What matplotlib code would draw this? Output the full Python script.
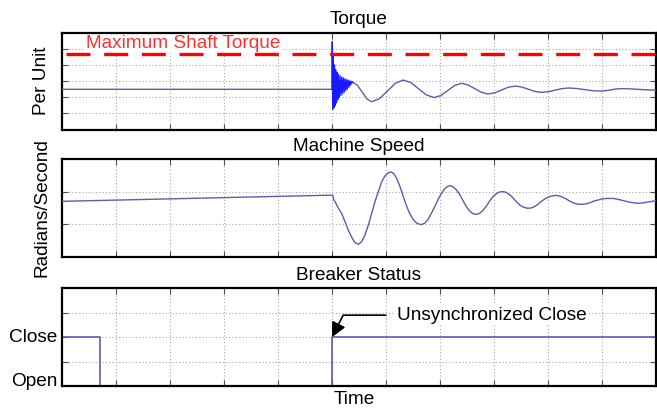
import matplotlib
matplotlib.use("Agg")
import matplotlib.pyplot as plt

plt.rcParams['font.family'] = ['Liberation Sans', 'DejaVu Sans']

# ---------------- data ----------------
titles = ["Torque", "Machine Speed", "Breaker Status"]
ylabels = ["Per Unit", "Radians/Second"]
x_label = "Time"
max_torque_label = "Maximum Shaft Torque"
annot_label = "Unsynchronized Close"
close_time = 5.0
max_torque = 4.65

# torque (per unit) - smooth part
torque_t = [0.0, 5.0, 5.38, 5.469, 5.558, 5.646, 5.735, 5.881, 6.028, 6.174, 6.32,
            6.463, 6.605, 6.748, 6.89, 7.018, 7.145, 7.273, 7.40, 7.52, 7.645, 7.77,
            7.89, 8.015, 8.14, 8.265, 8.39, 8.51, 8.635, 8.76, 8.88, 9.005, 9.13,
            9.255, 9.38, 9.525, 9.67, 9.815, 9.96, 10.06, 10.16, 10.26, 10.36,
            10.52, 10.68, 10.84, 11.0]
torque_v = [2.49, 2.49, 2.93, 2.75, 2.325, 1.90, 1.72, 1.916, 2.39, 2.864, 3.06,
            2.90, 2.52, 2.14, 1.98, 2.108, 2.42, 2.73, 2.86, 2.76, 2.53, 2.30,
            2.20, 2.27, 2.445, 2.62, 2.69, 2.633, 2.495, 2.357, 2.30, 2.34, 2.435,
            2.53, 2.57, 2.542, 2.475, 2.408, 2.38, 2.40, 2.455, 2.51, 2.53,
            2.517, 2.485, 2.453, 2.44]
# torque transient right after the unsynchronized close
spike_t = [5.000, 5.004, 5.012, 5.024, 5.036, 5.048, 5.060, 5.072, 5.084, 5.096,
           5.108, 5.120, 5.135, 5.150, 5.165, 5.180, 5.195, 5.210, 5.225, 5.240,
           5.255, 5.270, 5.285, 5.300, 5.315, 5.330, 5.345, 5.360, 5.375, 5.38]
spike_v = [2.49, 5.43, 1.25, 4.60, 1.35, 4.00, 1.50, 3.70, 1.65, 3.55,
           1.85, 3.42, 2.00, 3.32, 2.10, 3.25, 2.20, 3.20, 2.30, 3.15,
           2.40, 3.10, 2.50, 3.06, 2.62, 3.02, 2.75, 2.98, 2.88, 2.93]

# machine speed
speed_t = [0.0, 5.0, 5.02, 5.03, 5.056, 5.117, 5.179, 5.24, 5.30, 5.364, 5.426, 5.49,
           5.549, 5.611, 5.673, 5.735, 5.796, 5.858, 5.92, 5.98, 6.043, 6.09, 6.14,
           6.2, 6.26, 6.32, 6.38, 6.44, 6.50, 6.56, 6.62, 6.66, 6.72, 6.78, 6.84,
           6.90, 6.96, 7.02, 7.08, 7.14, 7.19, 7.25, 7.31, 7.37, 7.43, 7.49, 7.55,
           7.61, 7.68, 7.74, 7.80, 7.86, 7.92, 7.98, 8.05, 8.11, 8.17, 8.23, 8.30,
           8.36, 8.42, 8.48, 8.55, 8.61, 8.67, 8.73, 8.79, 8.85, 8.91, 8.98, 9.04,
           9.10, 9.16, 9.22, 9.28, 9.35, 9.41, 9.47, 9.53, 9.60, 9.65, 9.72, 9.78,
           9.84, 9.90, 9.97, 10.03, 10.10, 10.21, 10.30, 10.40, 10.50, 10.60, 10.67,
           10.75, 10.85, 10.93, 11.0]
speed_v = [1.70, 1.89, 1.87, 1.76, 1.69, 1.49, 1.33, 1.08, 0.82, 0.60, 0.43, 0.38,
           0.46, 0.67, 0.97, 1.33, 1.69, 2.00, 2.30, 2.48, 2.58, 2.60, 2.56,
           2.40, 2.15, 1.85, 1.56, 1.32, 1.15, 1.04, 0.995, 0.99, 1.03, 1.15, 1.33,
           1.53, 1.74, 1.93, 2.07, 2.16, 2.18, 2.14, 2.04, 1.89, 1.71, 1.53, 1.40,
           1.32, 1.30, 1.34, 1.43, 1.56, 1.71, 1.84, 1.94, 1.99, 2.00, 1.97, 1.89,
           1.79, 1.68, 1.58, 1.52, 1.49, 1.49, 1.52, 1.58, 1.66, 1.74, 1.81, 1.85,
           1.875, 1.88, 1.86, 1.82, 1.76, 1.70, 1.65, 1.62, 1.61, 1.61, 1.63, 1.66,
           1.70, 1.73, 1.76, 1.78, 1.79, 1.79, 1.76, 1.72, 1.68, 1.65, 1.64,
           1.65, 1.68, 1.70, 1.72]

# breaker status (0 = open, 2 = close)
breaker_t = [0.0, 0.70, 0.70, 5.0, 5.0, 11.0]
breaker_v = [2, 2, 0, 0, 2, 2]
state_names = ["Open", "Close"]
state_values = [0, 2]

# ---------------- figure ----------------
W, H = 657, 409
fig = plt.figure(figsize=(W / 100, H / 100), dpi=100)

def frac(l, t, r, b):
    return [l / W, 1 - b / H, (r - l) / W, (b - t) / H]

ax1 = fig.add_axes(frac(62, 32.5, 656, 129.6))
ax2 = fig.add_axes(frac(62, 159, 656, 256.7))
ax3 = fig.add_axes(frac(62, 288.3, 656, 386))

line_color = '#5c5cb0'
fs = 13.7

for ax, ylim, yt in [(ax1, (0, 6), range(1, 6)), (ax2, (0, 3), range(1, 3)),
                     (ax3, (0, 4), range(1, 4))]:
    ax.set_xlim(0, 11)
    ax.set_ylim(*ylim)
    ax.set_xticks(range(1, 11))
    ax.set_yticks(list(yt))
    ax.set_xticklabels([])
    ax.set_yticklabels([])
    ax.grid(True, color='#a8a8a8', linestyle=(0, (1, 2)), linewidth=0.8)
    ax.tick_params(direction='in', length=4, width=0.8, color='#505050',
                   top=True, right=True, left=True, bottom=True)
    for s in ax.spines.values():
        s.set_linewidth(1.6)
        s.set_color('black')

# torque
ax1.plot(torque_t, torque_v, color=line_color, lw=1.0, zorder=3)
ax1.plot(spike_t, spike_v, color='#1a1aff', lw=0.9, zorder=3)
ax1.plot([0.076, 11.0], [max_torque, max_torque], color='#ff0000', lw=2.4,
         dashes=(7.2, 4.1), zorder=4)
ax1.text(0.44, 5.04, max_torque_label, color='#ff3030', fontsize=fs, va='baseline',
         ha='left', zorder=2,
         bbox=dict(facecolor='white', edgecolor='none', pad=1.0))
ax1.set_title(titles[0], fontsize=fs, pad=6)
ax1.set_ylabel(ylabels[0], fontsize=fs)
ax1.yaxis.set_label_coords(-0.02, 0.5)

# speed
ax2.plot(speed_t, speed_v, color=line_color, lw=1.0, zorder=3)
ax2.set_title(titles[1], fontsize=fs, pad=6)
ax2.set_ylabel(ylabels[1], fontsize=fs)
ax2.yaxis.set_label_coords(-0.02, 0.5)

# breaker
ax3.plot(breaker_t, breaker_v, color=line_color, lw=1.2, zorder=2, clip_on=False)
ax3.set_title(titles[2], fontsize=fs, pad=6)
for name, val in zip(state_names, state_values):
    ax3.text(-0.008, val, name, transform=ax3.get_yaxis_transform(), fontsize=fs,
             ha='right', va='baseline' if val == 0 else 'center')
ax3.annotate(annot_label, xy=(close_time, 2.0), xytext=(6.2, 2.9),
             fontsize=fs, va='center', ha='left',
             bbox=dict(facecolor='white', edgecolor='none', pad=1.0),
             arrowprops=dict(arrowstyle='-|>', color='black', lw=1.2,
                             mutation_scale=22, shrinkA=7, shrinkB=0,
                             connectionstyle='angle,angleA=0,angleB=63,rad=0'))
ax3.set_xlabel(x_label, fontsize=fs, labelpad=3)
ax3.xaxis.set_label_coords(0.492, -0.05)

fig.savefig('out.png', dpi=100)
